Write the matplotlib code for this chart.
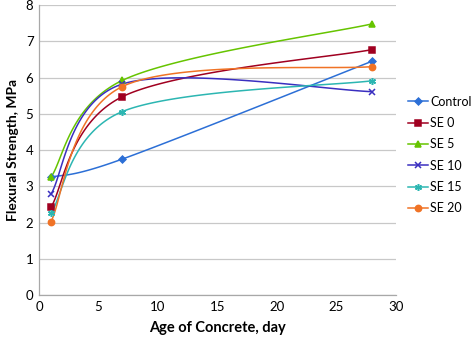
import numpy as np
import matplotlib
matplotlib.use("Agg")
import matplotlib.pyplot as plt
from matplotlib.lines import Line2D

plt.rcParams['font.family'] = ['Lato', 'DejaVu Sans']

days = [1, 7, 28]
series = ['Control', 'SE 0', 'SE 5', 'SE 10', 'SE 15', 'SE 20']
control = [3.25, 3.75, 6.45]
se0 = [2.42, 5.47, 6.77]
se5 = [3.25, 5.92, 7.48]
se10 = [2.78, 5.82, 5.61]
se15 = [2.25, 5.06, 5.91]
se20 = [2.02, 5.75, 6.30]
values = [control, se0, se5, se10, se15, se20]

colors = ['#2C6FD6', '#A00020', '#66C400', '#3A2FC0', '#2CB6B2', '#F07326']
markers = ['D', 's', '^', 'x', (6, 2, 0), 'o']
msizes = [3.5, 4, 4.5, 4, 5, 4.5]


def smooth(xs, ys, n=60):
    # Excel-style smoothed line: cubic Bezier through the points
    p = np.column_stack([xs, ys]).astype(float)
    pts = np.vstack([p[0], p, p[-1]])
    out = []
    for i in range(len(p) - 1):
        p0, p1, p2, p3 = pts[i], pts[i + 1], pts[i + 2], pts[i + 3]
        c1 = p1 + (p2 - p0) / 6.0
        c2 = p2 - (p3 - p1) / 6.0
        t = np.linspace(0, 1, n)[:, None]
        seg = ((1 - t) ** 3) * p1 + 3 * ((1 - t) ** 2) * t * c1 \
            + 3 * (1 - t) * t ** 2 * c2 + t ** 3 * p2
        out.append(seg)
    out = np.vstack(out)
    return out[:, 0], out[:, 1]


fig = plt.figure(figsize=(4.73, 3.37), dpi=100)
ax = fig.add_axes([0.0825, 0.1246, 0.7545, 0.8605])

handles = []
for name, ys, c, m, ms in zip(series, values, colors, markers, msizes):
    sx, sy = smooth(days, ys)
    ax.plot(sx, sy, color=c, lw=1.1, zorder=3)
    ax.plot(days, ys, ls='none', marker=m, color=c, ms=ms, mew=1.1, zorder=4)
    handles.append(Line2D([0], [0], color=c, lw=1.1, marker=m, ms=ms, mew=1.1))

ax.set_xlim(0, 30)
ax.set_ylim(0, 8)
ax.set_xticks(range(0, 31, 5))
ax.set_yticks(range(0, 9))
ax.grid(axis='y', color='#C8C8C8', lw=0.9)
ax.set_axisbelow(True)
for s in ['top', 'right']:
    ax.spines[s].set_visible(False)
for s in ['left', 'bottom']:
    ax.spines[s].set_color('#A8A8A8')
    ax.spines[s].set_linewidth(0.9)
ax.tick_params(length=0, labelsize=9.5, pad=4)

ax.set_xlabel('Age of Concrete, day', fontsize=10.5, fontweight='bold', labelpad=6)
ax.set_ylabel('Flexural Strength, MPa', fontsize=10, fontweight='bold', labelpad=5)

fig.legend(handles=handles, labels=series, loc='center left',
           bbox_to_anchor=(0.862, 0.54), frameon=False, fontsize=9,
           handlelength=1.6, handletextpad=0.2, labelspacing=0.75,
           borderpad=0, borderaxespad=0)

fig.savefig('out.png', dpi=100)
